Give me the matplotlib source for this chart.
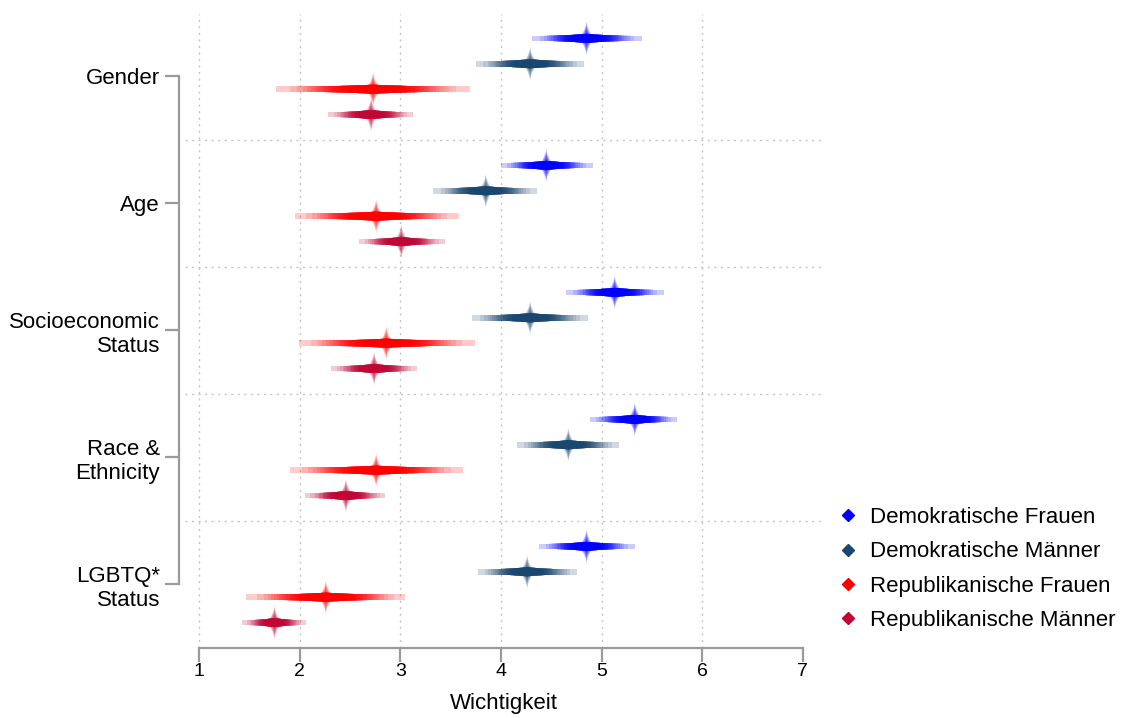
import numpy as np
import matplotlib
matplotlib.use("Agg")
import matplotlib.pyplot as plt
from matplotlib.lines import Line2D
from statistics import NormalDist

plt.rcParams["font.family"] = ["Liberation Sans", "DejaVu Sans"]

# data (mean, lower and upper end of the strip)
groups = ["Gender", "Age", "Socioeconomic\nStatus", "Race &\nEthnicity", "LGBTQ*\nStatus"]
series = ["Demokratische Frauen", "Demokratische Männer",
          "Republikanische Frauen", "Republikanische Männer"]
colors = ["#0000ff", "#1a476f", "#ff0000", "#c10534"]

dem_f_mean = [4.85, 4.45, 5.13, 5.33, 4.85]
dem_f_lo = [4.31, 4.00, 4.65, 4.88, 4.38]
dem_f_hi = [5.40, 4.91, 5.62, 5.75, 5.33]

dem_m_mean = [4.29, 3.85, 4.29, 4.67, 4.26]
dem_m_lo = [3.75, 3.33, 3.71, 4.16, 3.77]
dem_m_hi = [4.83, 4.36, 4.87, 5.17, 4.76]

rep_f_mean = [2.73, 2.76, 2.86, 2.76, 2.26]
rep_f_lo = [1.77, 1.95, 1.99, 1.90, 1.47]
rep_f_hi = [3.69, 3.58, 3.74, 3.62, 3.05]

rep_m_mean = [2.71, 3.01, 2.74, 2.46, 1.75]
rep_m_lo = [2.28, 2.59, 2.31, 2.05, 1.43]
rep_m_hi = [3.13, 3.44, 3.17, 2.85, 2.06]

means = [dem_f_mean, dem_m_mean, rep_f_mean, rep_m_mean]
lows = [dem_f_lo, dem_m_lo, rep_f_lo, rep_m_lo]
highs = [dem_f_hi, dem_m_hi, rep_f_hi, rep_m_hi]

xticks = [1, 2, 3, 4, 5, 6, 7]
gray = "#9a9a9a"
grid_gray = "#c4c4c4"


def draw_strip(ax, m, lo, hi, y, color):
    # stacked confidence levels: narrow levels overlap more -> darker centre
    levels = np.linspace(0.0, 0.99, 60)
    zmax = NormalDist().inv_cdf((1 + 0.99) / 2)
    frac = np.array([NormalDist().inv_cdf((1 + q) / 2) for q in levels]) / zmax
    lefts = m - (m - lo) * frac
    widths = (hi - lo) * frac
    heights = 0.22 * (1 + 0.8 * (1 - frac) ** 2)
    ax.barh(y, hi - lo, left=lo, height=0.22, color=color, alpha=0.09, lw=0, zorder=2)
    ax.barh(np.full(len(levels), y), widths, left=lefts, height=heights,
            color=color, alpha=0.12, lw=0, zorder=2)
    # star-shaped spike at the mean
    t = np.linspace(0, 2 * np.pi, 240)
    for s in np.linspace(1.0, 0.1, 12):
        ax.fill(m + 0.1 * s * np.cos(t) ** 3, y + 0.7 * s * np.sin(t) ** 3,
                color=color, alpha=0.15, lw=0, zorder=3)


fig = plt.figure(figsize=(11.23, 7.18), dpi=100)
ax = fig.add_axes([185 / 1123, 70 / 718, 637 / 1123, 634 / 718])
ax.set_xlim(0.861, 7.19)
ax.set_ylim(24, -0.96)

for xv in xticks[:-1]:
    ax.axvline(xv, color=grid_gray, lw=1, ls=(0, (1.5, 3.2)), zorder=0)
for g in range(1, len(groups)):
    ax.axhline(g * 5 - 1, color=grid_gray, lw=1, ls=(0, (1.5, 3.2)), zorder=0)

for si in range(len(series)):
    for g in range(len(groups)):
        draw_strip(ax, means[si][g], lows[si][g], highs[si][g], g * 5 + si, colors[si])

ax.set_xticks(xticks)
ax.set_xticklabels([str(v) for v in xticks])
ax.set_yticks([g * 5 + 1.5 for g in range(len(groups))])
ax.set_yticklabels(groups, linespacing=1.0)
ax.set_xlabel("Wichtigkeit", fontsize=16, labelpad=9)

for side in ["top", "right"]:
    ax.spines[side].set_visible(False)
ax.spines["left"].set_position(("outward", 4))
ax.spines["left"].set_bounds(1.5, 21.5)
ax.spines["bottom"].set_bounds(1, 7)
for side in ["left", "bottom"]:
    ax.spines[side].set_color(gray)
    ax.spines[side].set_linewidth(1.6)
ax.tick_params(axis="y", length=10, width=1.6, color=gray, pad=4, labelsize=16)
ax.tick_params(axis="x", length=10, width=1.6, color=gray, pad=1, labelsize=14)

handles = [Line2D([], [], marker="D", ls="none", color=c, ms=6) for c in colors]
fig.legend(handles, series, loc="center left", bbox_to_anchor=(839 / 1123, 1 - 569 / 718),
           frameon=False, fontsize=16, handlelength=0.8, handletextpad=0.6,
           labelspacing=0.6, borderpad=0, borderaxespad=0)

fig.savefig("out.png", dpi=100)
